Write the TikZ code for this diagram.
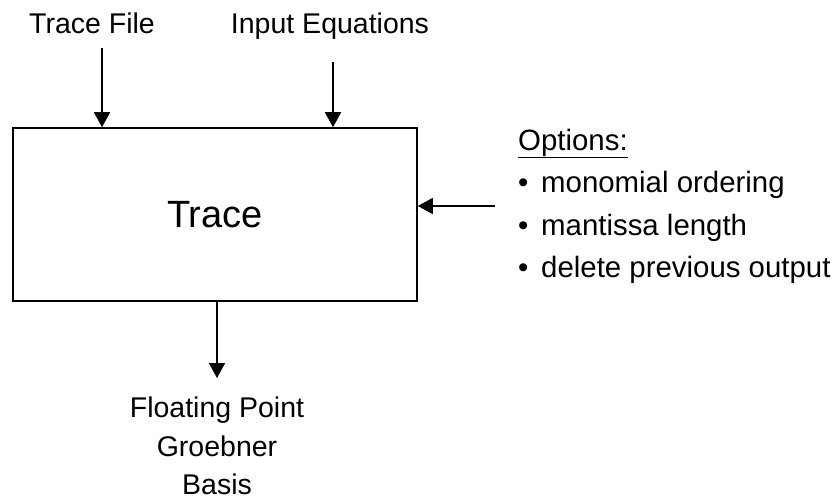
\documentclass[tikz,border=0pt]{standalone}
\usepackage{fontspec}
\setmainfont{Liberation Sans}
\usetikzlibrary{arrows.meta}
\begin{document}
\begin{tikzpicture}[x=1pt,y=-1pt,
  lbl/.style={font=\fontsize{28.5}{34}\selectfont,inner sep=0pt},
  optl/.style={font=\fontsize{29.4}{34}\selectfont,inner sep=0pt,anchor=base west},
  arr/.style={line width=1.6pt,-{Triangle[length=15pt,width=16pt]}},
  boxst/.style={draw,line width=1.6pt,minimum width=404pt,minimum height=173pt,inner sep=0pt,font=\fontsize{38}{44}\selectfont}]
\useasboundingbox (0,0) rectangle (833,499);
\node[boxst] (box) at (215,214.5) {Trace};
\node[lbl,anchor=base] (tf) at (92,33) {Trace File};
\node[lbl,anchor=base] (ie) at (330,33) {Input Equations};
\coordinate (tfs) at (102,48);
\coordinate (ies) at (333,62);
\draw[arr] (tfs) -- (tfs |- box.north);
\draw[arr] (ies) -- (ies |- box.north);
\node[optl] (opt) at (518,150) {\underline{Options:}};
\node[optl] (o1) at (518,192) {\makebox[23pt][l]{•}monomial ordering};
\node[optl] (o2) at (518,235) {\makebox[23pt][l]{•}mantissa length};
\node[optl] (o3) at (518,277) {\makebox[23pt][l]{•}delete previous output};
\coordinate (ops) at (495,206);
\draw[arr] (ops) -- (ops -| box.east);
\node[lbl,anchor=base] (fp) at (217,417) {Floating Point};
\node[lbl,anchor=base] (gb) at (217,456) {Groebner};
\node[lbl,anchor=base] (ba) at (217,494) {Basis};
\coordinate (oute) at (217,378);
\draw[arr] (box.south -| oute) -- (oute);
\end{tikzpicture}
\end{document}
